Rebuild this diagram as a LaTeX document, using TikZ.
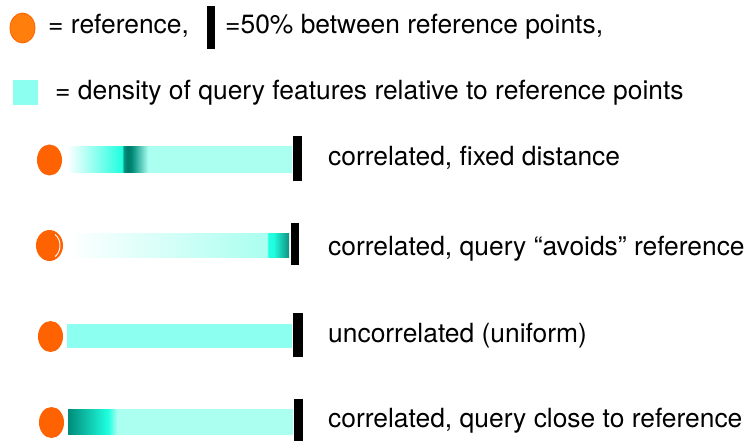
\documentclass[tikz,border=0pt]{standalone}
\usepackage{fontspec}
\setmainfont{TeX Gyre Heros}
\usetikzlibrary{shapes.geometric}

\definecolor{reforange}{HTML}{FF6200}
\definecolor{keyorange}{HTML}{FF7E0C}
\definecolor{lightq}{HTML}{AAFFF0}
\definecolor{flatq}{HTML}{8CFFF0}
\definecolor{brightq}{HTML}{20FFE0}
\definecolor{tealq}{HTML}{00907C}
\definecolor{darkq}{HTML}{007868}
\definecolor{midq}{HTML}{008C7A}
\definecolor{edgeq}{HTML}{10907F}

% density profiles, 25bp..75bp is the bar itself
\pgfdeclarehorizontalshading{fixeddist}{100bp}{color(0bp)=(white); color(25bp)=(white);
  color(37.2bp)=(brightq); color(37.6bp)=(tealq); color(38.6bp)=(darkq);
  color(39.4bp)=(midq); color(43bp)=(lightq); color(100bp)=(lightq)}
\pgfdeclarehorizontalshading{avoidref}{100bp}{color(0bp)=(white); color(25bp)=(white);
  color(70bp)=(lightq); color(70.3bp)=(brightq); color(71.4bp)=(brightq);
  color(75bp)=(edgeq); color(100bp)=(edgeq)}
\pgfdeclarehorizontalshading{closeref}{100bp}{color(0bp)=(midq); color(25bp)=(midq);
  color(33.9bp)=(brightq); color(35.9bp)=(lightq); color(100bp)=(lightq)}

\begin{document}
\begin{tikzpicture}[x=1pt,y=-1pt,
ref/.style={ellipse, fill=reforange, minimum width=25pt, minimum height=31pt, inner sep=0pt},
half/.style={fill=black, minimum width=9pt, minimum height=44pt, inner sep=0pt},
density/.style={anchor=west, minimum width=225pt, minimum height=25pt, inner sep=0pt},
lbl/.style={anchor=base west, inner sep=0pt, font=\fontsize{26.4}{31}\selectfont}
]
\useasboundingbox (0,0) rectangle (747,441);

% key
\node[ref, fill=keyorange, draw=reforange, line width=0.8pt, minimum height=30pt] (keyref) at (22.5,28) {};
\node[lbl] (keyreftext) at (48,34) {= reference,};
\node[half, minimum width=8pt, minimum height=43pt] (keyhalf) at (211,27.5) {};
\node[lbl] (keyhalftext) at (225,34) {=50\% between reference points,};
\node[fill=flatq, minimum size=25pt, inner sep=0pt] (keyq) at (25.5,92.5) {};
\node[lbl] (keyqtext) at (55,100) {= density of query features relative to reference points};

% correlated, fixed distance
\node[ref] (ref1) at (49.5,160) {};
\node[density, shade, shading=fixeddist] (bar1) at (67,159.5) {};
\node[half, minimum height=45pt] (half1) at (297.5,158.5) {};
\node[lbl] (lbl1) at (328,165) {correlated, fixed distance};

% correlated, query avoids reference
\node[ref, minimum width=27pt] (ref2) at (49.5,245.5) {};
\draw[white, line width=0.9pt] (ref2.center) ++(-1,0) ++(-55:11.5 and 13.5)
  arc[start angle=-55, end angle=55, x radius=11.5, y radius=13.5];
\node[density, shade, shading=avoidref, minimum width=222pt, minimum height=24pt] (bar2) at (67,245) {};
\node[half, minimum width=8pt, minimum height=42pt] (half2) at (295,244) {};
\node[lbl] (lbl2) at (328,255) {correlated, query “avoids” reference};

% uncorrelated
\node[ref] (ref3) at (50.5,336.5) {};
\node[density, fill=flatq, minimum height=24pt] (bar3) at (67,336) {};
\node[half, minimum width=10pt] (half3) at (298,335) {};
\node[lbl] (lbl3) at (328,342) {uncorrelated (uniform)};

% correlated, query close to reference
\node[ref] (ref4) at (51.5,422.5) {};
\node[density, shade, shading=closeref] (bar4) at (68,421.5) {};
\node[half] (half4) at (298.5,421) {};
\node[lbl] (lbl4) at (328,427) {correlated, query close to reference};
\end{tikzpicture}
\end{document}
